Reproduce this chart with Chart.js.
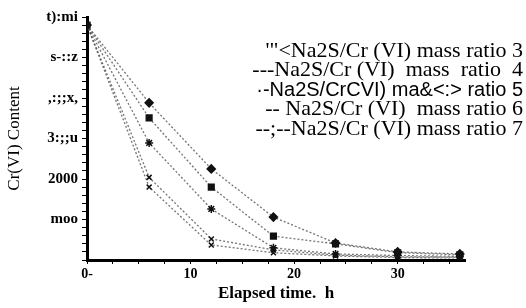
<!DOCTYPE html>
<html>
<head>
<meta charset="utf-8">
<script src="https://cdn.jsdelivr.net/npm/chart.js@4.4.0/dist/chart.umd.min.js"></script>
<style>
  html, body { margin: 0; padding: 0; background: #fff; }
  #wrap { width: 526px; height: 308px; position: relative; }
</style>
</head>
<body>
<div id="wrap"><canvas id="myChart"></canvas></div>
<script>
'use strict';
// elapsed time, h
var hours = [0, 6, 12, 18, 24, 30, 36];
// Cr(VI) content per Na2S/Cr(VI) mass ratio
var ratio3 = [5800, 3880, 2250, 1060, 420, 200, 150];
var ratio4 = [5800, 3510, 1800, 590, 400, 180, 130];
var ratio5 = [5800, 2890, 1260, 300, 150, 110, 90];
var ratio6 = [5800, 2040, 520, 250, 120, 80, 70];
var ratio7 = [5800, 1800, 370, 180, 100, 60, 50];
var seriesNames = [
  '\'"<Na2S/Cr (VI) mass ratio 3',
  '---Na2S/Cr (VI)  mass  ratio  4',
  '·-Na2S/CrCVI) ma&<:> ratio 5',
  '-- Na2S/Cr (VI)  mass ratio 6',
  '--;--Na2S/Cr (VI) mass ratio 7'
];
var xTicks = [0, 10, 20, 30];
var xTickLabels = ['0-', '10', '20', '30'];
var yTicks = [1000, 2000, 3000, 4000, 5000, 6000];
var yTickLabels = ['moo', '2000', '3:;;u', ',:;;x,', 's-::z', 't):mi'];

var allSeries = [ratio3, ratio4, ratio5, ratio6, ratio7];
var markers = ['rectRot', 'rect', 'star', 'crossRot', 'crossRot'];
var markerSize = [4, 4, 4, 3.5, 3.5];

function toPoints(vals){
  var pts = [];
  for(var i = 0; i < hours.length; i++){
    pts.push({x: hours[i], y: vals[i]});
  }
  return pts;
}

var datasets = [];
for(var i = 0; i < allSeries.length; i++){
  datasets.push({
    label: seriesNames[i],
    data: toPoints(allSeries[i]),
    borderColor: 'rgba(70,70,70,0.75)',
    borderWidth: 1.3,
    borderDash: [2, 2],
    pointStyle: markers[i],
    pointRadius: markerSize[i],
    pointBackgroundColor: '#111',
    pointBorderColor: '#111',
    pointBorderWidth: 1.5,
    tension: 0
  });
}

// legend drawn as plain text lines at top right, like the scan
var legendFonts = [
  '22px "Liberation Serif"',
  '22px "Liberation Serif"',
  '20px "Liberation Sans"',
  '22px "Liberation Serif"',
  '22px "Liberation Serif"'
];
var textLegend = {
  id: 'textLegend',
  afterDraw: function(chart){
    var ctx = chart.ctx;
    ctx.save();
    ctx.fillStyle = '#000';
    ctx.textAlign = 'right';
    ctx.textBaseline = 'middle';
    for(var i = 0; i < chart.data.datasets.length; i++){
      ctx.font = legendFonts[i];
      ctx.fillText(chart.data.datasets[i].label, 523, 51 + i * 19.5);
    }
    ctx.restore();
  }
};

function steps(from, to, step){
  var out = [];
  for(var v = from; v <= to + 1e-9; v += step) out.push(v);
  return out;
}

var ctx = document.getElementById('myChart').getContext('2d');
var chart = new Chart(ctx, {
  type: 'line',
  data: { datasets: datasets },
  plugins: [textLegend],
  options: {
    responsive: true,
    maintainAspectRatio: false,
    animation: false,
    layout: { padding: { top: 17, right: 61, left: 0, bottom: 0 } },
    plugins: { legend: { display: false }, tooltip: { enabled: false } },
    scales: {
      x: {
        type: 'linear',
        min: 0,
        max: 36.5,
        afterBuildTicks: function(scale){
          scale.ticks = steps(0, 35, 2.5).map(function(v){ return {value: v}; });
        },
        afterFit: function(scale){ scale.height = 48; },
        border: { color: '#000', width: 3 },
        grid: { drawOnChartArea: false, tickLength: 4, color: '#000' },
        ticks: {
          color: '#000',
          padding: 2,
          autoSkip: false,
          maxRotation: 0,
          font: { family: 'Liberation Serif', size: 14, weight: 'bold' },
          callback: function(v){
            var k = xTicks.indexOf(v);
            return k >= 0 ? xTickLabels[k] : '';
          }
        },
        title: {
          display: true,
          text: 'Elapsed time.  h',
          color: '#000',
          padding: { top: 4 },
          font: { family: 'Liberation Serif', size: 17, weight: 'bold' }
        }
      },
      y: {
        min: 0,
        max: 6000,
        afterBuildTicks: function(scale){
          scale.ticks = steps(0, 6000, 200).map(function(v){ return {value: v}; });
        },
        afterFit: function(scale){ scale.width = 87; },
        border: { color: '#000', width: 3 },
        grid: { drawOnChartArea: false, tickLength: 5, color: '#000' },
        ticks: {
          color: '#000',
          padding: 4,
          autoSkip: false,
          font: { family: 'Liberation Serif', size: 15, weight: 'bold' },
          callback: function(v){
            var k = yTicks.indexOf(v);
            return k >= 0 ? yTickLabels[k] : '';
          }
        },
        title: {
          display: true,
          text: 'Cr(VI) Content',
          color: '#000',
          padding: { bottom: 0, top: 4 },
          font: { family: 'Liberation Serif', size: 17 }
        }
      }
    }
  }
});
</script>
</body>
</html>
